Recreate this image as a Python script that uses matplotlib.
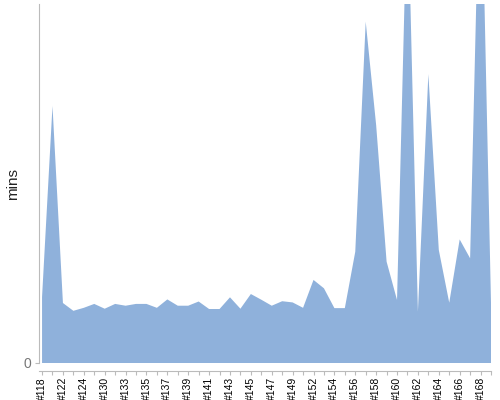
import matplotlib
matplotlib.use("Agg")
import matplotlib.pyplot as plt

plt.rcParams["font.family"] = ["Liberation Sans", "DejaVu Sans"]

builds = ["#118", "#121", "#122", "#123", "#124", "#128", "#130", "#132", "#133", "#134",
          "#135", "#136", "#137", "#138", "#139", "#140", "#141", "#142", "#143", "#144",
          "#145", "#146", "#147", "#148", "#149", "#150", "#152", "#153", "#154", "#155",
          "#156", "#157", "#158", "#159", "#160", "#161", "#162", "#163", "#164", "#165",
          "#166", "#167", "#168", "#169"]
minutes = [22.0, 85.7, 20.0, 17.4, 18.4, 19.7, 18.1, 19.7, 19.1, 19.7,
           19.7, 18.4, 21.2, 19.1, 19.1, 20.5, 18.0, 18.0, 21.9, 18.1,
           23.0, 21.1, 19.1, 20.6, 20.2, 18.4, 27.7, 24.9, 18.3, 18.3,
           37.1, 113.8, 79.3, 33.8, 21.0, 160.0, 17.1, 96.3, 37.7, 20.1,
           41.2, 34.9, 180.0, 20.0]
y_ticks = [0]

W, H = 500, 400
fig = plt.figure(figsize=(W / 100, H / 100), dpi=100)
left, right, top, bottom = 38.5, 491, 4, 363
ax = fig.add_axes([left / W, 1 - bottom / H, (right - left) / W, (bottom - top) / H])

for s in ["top", "right"]:
    ax.spines[s].set_visible(False)
ax.spines["left"].set_color("#bbbbbb")
ax.spines["bottom"].set_color("#bbbbbb")
ax.spines["bottom"].set_position(("outward", 6))

x = list(range(len(builds)))
ax.fill_between(x, minutes, 0, color="#8fb1db", linewidth=0)
ax.set_xlim(-0.34, len(builds) - 1)
ax.set_ylim(0, 119.7)

ax.set_xticks(x)
ax.set_xticklabels([b if i % 2 == 0 else "" for i, b in enumerate(builds)],
                   fontsize=7.5, color="#000000")
ax.set_yticks(y_ticks)
ax.set_yticklabels([str(v) for v in y_ticks], fontsize=10, color="#777777")

ax.tick_params(axis="x", length=3, color="#bbbbbb", pad=1, labelrotation=90)
ax.tick_params(axis="y", length=3, color="#bbbbbb", pad=2)

fig.text(13 / W, 1 - 184 / H, "mins", rotation=90, ha="center", va="center",
         fontsize=11, color="#222222")

fig.savefig("out.png", dpi=100)
